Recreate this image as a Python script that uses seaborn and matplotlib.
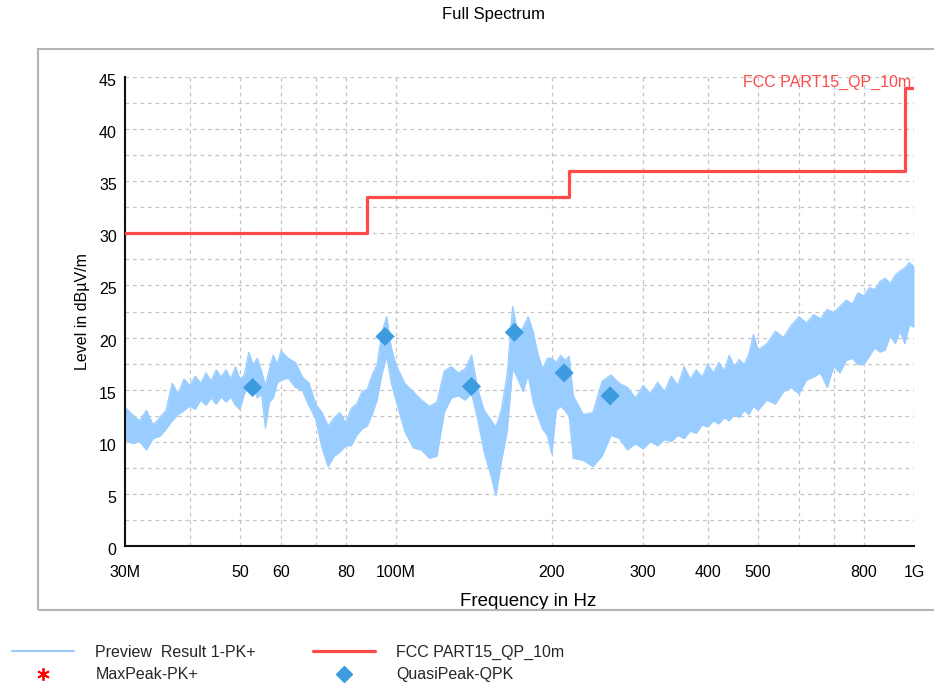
import matplotlib
matplotlib.use("Agg")
import matplotlib.pyplot as plt
from matplotlib.lines import Line2D
from matplotlib.patches import Rectangle
from matplotlib.ticker import MultipleLocator, NullLocator
from matplotlib.transforms import ScaledTranslation
import pandas as pd
import seaborn as sns

# ---- measured spectrum (Preview Result 1-PK+): upper / lower trace envelope ----
freq_mhz = [30, 31, 32, 33, 34, 35, 36, 37, 38, 39, 40, 41, 42, 43, 44, 45, 46, 47, 48, 49,
            50, 51, 52, 53, 54, 55, 56, 57, 58, 59, 60,
            62, 64, 66, 68, 70, 72, 74, 76, 78, 80, 82, 84, 86, 88, 90, 92, 94, 96, 98, 100,
            104, 108, 112, 116, 120, 124, 128, 132, 136, 140, 144, 148, 152, 156, 160,
            164, 168, 172, 176, 180, 184, 188, 192, 196, 200, 204, 208, 212, 216, 220,
            230, 240, 250, 260, 270, 280, 290, 300, 310, 320, 330, 340, 350, 360, 370,
            380, 390, 400, 410, 420, 430, 440, 450, 460, 470, 480, 490, 500,
            520, 540, 560, 580, 600, 620, 640, 660, 680, 700, 720, 740, 760, 780, 800,
            820, 840, 860, 880, 900, 920, 940, 960, 980, 1000]
level_hi = [13.3, 12.6, 12.0, 13.0, 11.6, 12.3, 13.0, 15.6, 14.6, 16.0, 15.4, 16.3, 15.6,
            16.6, 15.8, 16.9, 16.2, 16.9, 16.0, 17.2, 16.0, 16.4, 18.6, 17.4, 18.0, 16.8,
            15.4, 17.0, 18.3, 17.4, 18.7,
            18.0, 17.6, 16.2, 15.6, 13.6, 12.8, 11.5, 12.3, 12.8, 11.8, 13.2, 13.6, 14.8,
            15.0, 16.4, 17.4, 20.6, 22.0, 19.0, 17.4,
            15.6, 14.8, 14.0, 13.4, 13.8, 16.8, 17.2, 16.6, 17.0, 18.3, 15.0, 13.0, 12.2,
            11.4, 13.2, 16.5, 23.0, 20.4, 21.0, 22.0, 20.6, 18.4, 17.0, 18.0, 18.0, 17.6,
            18.3, 17.8, 18.2, 14.4,
            12.6, 12.8, 15.8, 16.4, 15.6, 15.2, 14.2, 15.4, 14.6, 15.7, 14.8, 16.3, 15.4,
            17.2, 16.0, 16.9, 16.2, 17.4, 16.6, 17.6, 16.8, 18.3, 17.2, 17.9, 17.4, 18.4,
            20.3, 18.8,
            19.4, 20.6, 20.0, 21.2, 22.0, 21.4, 22.2, 21.8, 22.7, 22.4, 23.0, 23.6, 23.2,
            24.3, 24.0, 24.8, 24.6, 25.4, 25.7, 25.2, 26.0, 26.4, 26.7, 27.2, 26.8]
level_lo = [10.2, 9.8, 10.0, 9.2, 10.3, 10.5, 11.2, 12.0, 12.6, 13.0, 13.4, 13.1, 14.0,
            13.5, 14.2, 13.6, 14.3, 13.8, 14.3, 13.5, 13.1, 14.6, 15.4, 15.6, 14.2, 14.6,
            11.3, 13.8, 14.2, 15.6, 15.9,
            16.1, 15.2, 14.9, 13.4, 12.2, 9.4, 7.6, 8.6, 9.0, 9.6, 9.6, 10.6, 11.2, 11.5,
            12.6, 14.0, 16.5, 18.2, 15.6, 14.0,
            11.0, 9.4, 9.2, 8.4, 8.6, 12.8, 14.2, 14.4, 14.0, 14.6, 12.0, 9.0, 7.0, 4.8,
            8.2, 11.0, 17.0, 16.0, 14.8, 16.4, 13.8, 12.4, 11.2, 10.6, 8.8, 13.0, 13.4,
            13.0, 12.4, 8.4,
            8.2, 7.6, 8.6, 10.6, 10.3, 9.2, 9.8, 9.3, 10.0, 9.6, 10.2, 10.0, 10.6, 10.3,
            11.0, 10.8, 11.6, 11.4, 12.0, 11.7, 12.3, 12.0, 12.6, 12.3, 13.0, 12.6, 13.4,
            13.0,
            14.0, 13.6, 14.8, 15.2, 14.6, 15.9, 16.2, 16.6, 15.2, 17.2, 16.6, 17.8, 18.0,
            17.4, 17.4, 18.2, 19.0, 18.6, 18.8, 20.2, 19.4, 20.6, 19.4, 21.2, 21.0]

# ---- FCC Part 15 QP limit at 10 m (each level starts at its frequency) ----
limit_f = [30, 88, 216, 960, 1000]
limit_lvl = [30.0, 33.5, 36.0, 44.0, 44.0]

# ---- quasi-peak final measurements ----
qp_f = [52.9, 95.3, 139.9, 169.3, 211.2, 259.1]
qp_lvl = [15.2, 20.1, 15.3, 20.5, 16.6, 14.4]

# ---- axis ticks ----
tick_f = [30, 40, 50, 60, 70, 80, 100, 200, 300, 400, 500, 600, 700, 800, 1000]
tick_labels = ["30M", "", "50", "60", "", "80", "100M", "200", "300", "400", "500",
               "", "", "800", "1G"]

SPEC = "#99ccff"
LIMIT = "#ff4a4a"
QPC = "#3d9be0"
GRID = "#c4c4c4"

sns.set_theme(style="white")
plt.rcParams["font.family"] = ["Liberation Sans", "DejaVu Sans"]

W, H = 934, 686
fig = plt.figure(figsize=(W / 100, H / 100), dpi=100)
ax = fig.add_axes([125 / W, 1 - 545.7 / H, 789 / W, 468.4 / H])

spec = pd.DataFrame({"f": freq_mhz, "hi": level_hi, "lo": level_lo})
limit = pd.DataFrame({"f": limit_f, "level": limit_lvl})
qp = pd.DataFrame({"f": qp_f, "level": qp_lvl})

# spectrum trace drawn as its min/max band
ax.fill_between(spec["f"], spec["lo"], spec["hi"], color=SPEC, lw=0, zorder=2)
sns.lineplot(data=spec, x="f", y="hi", color=SPEC, lw=0.9, ax=ax, zorder=2)
sns.lineplot(data=spec, x="f", y="lo", color=SPEC, lw=0.9, ax=ax, zorder=2)

# limit line
sns.lineplot(data=limit, x="f", y="level", color=LIMIT, lw=2.3,
             drawstyle="steps-post", ax=ax, zorder=3)

# quasi-peak markers
sns.scatterplot(data=qp, x="f", y="level", marker="D", s=95, color=QPC,
                edgecolor="none", ax=ax, zorder=5)

ax.set_xscale("log")
ax.set_xlim(30, 1000)
ax.set_ylim(0, 45)
ax.set_xticks(tick_f)
ax.set_xticklabels(tick_labels)
ax.xaxis.set_minor_locator(NullLocator())
ax.set_yticks(range(0, 46, 5))
ax.yaxis.set_minor_locator(MultipleLocator(2.5))

ax.grid(which="both", axis="y", ls=(0, (3, 3)), color=GRID, lw=0.9, zorder=0)
ax.grid(which="major", axis="x", ls=(0, (3, 3)), color=GRID, lw=0.9, zorder=0)
ax.set_axisbelow(True)

for side in ("top", "right"):
    ax.spines[side].set_visible(False)
for side in ("left", "bottom"):
    ax.spines[side].set_color("#111111")
    ax.spines[side].set_linewidth(1.5)

ax.tick_params(axis="both", which="both", direction="inout", length=7.5, width=1.2,
               color="#111111", labelsize=11.5, labelcolor="black")
ax.tick_params(axis="x", pad=10)
ax.tick_params(axis="y", pad=2.2)
for lbl in ax.get_yticklabels():
    lbl.set_transform(lbl.get_transform() + ScaledTranslation(0, -3 / 100, fig.dpi_scale_trans))

ax.set_xlabel("Frequency in Hz", fontsize=13.5, color="black")
ax.xaxis.set_label_coords((528.5 - 125) / 789, -(606 - 545.7) / 468.4)
ax.xaxis.label.set_va("baseline")
ax.set_ylabel("Level in dBµV/m", fontsize=11.5, color="black")
ax.yaxis.set_label_coords(-0.044, 0.5)

ax.text(0.996, 44.1, "FCC PART15_QP_10m", color=LIMIT, fontsize=11.5,
        ha="right", va="baseline", transform=ax.get_yaxis_transform())

fig.text(493.7 / W, 1 - 19.3 / H, "Full Spectrum", ha="center", va="baseline",
         fontsize=12, color="black")

# outer panel frame
fig.patches.append(Rectangle((38 / W, 1 - 610 / H), (950 - 38) / W, (610 - 49) / H,
                             transform=fig.transFigure, fill=False,
                             ec="#b4b4b4", lw=1.5))

handles = [
    Line2D([], [], color=SPEC, lw=1.5),
    Line2D([], [], ls="none", marker=(6, 2, 0), color="red", ms=9, mew=1.3),
    Line2D([], [], color=LIMIT, lw=2.3),
    Line2D([], [], ls="none", marker="D", color=QPC, ms=8.5),
]
labels = ["Preview  Result 1-PK+", "MaxPeak-PK+", "FCC PART15_QP_10m", "QuasiPeak-QPK"]
fig.legend(handles, labels, loc="upper left", bbox_to_anchor=(11.5 / W, 1 - 645 / H),
           ncol=2, frameon=False, fontsize=11.5, handlelength=3.9, handletextpad=1.35,
           columnspacing=3.55, borderpad=0, borderaxespad=0, labelspacing=0.45)

fig.savefig("out.png", dpi=100)
